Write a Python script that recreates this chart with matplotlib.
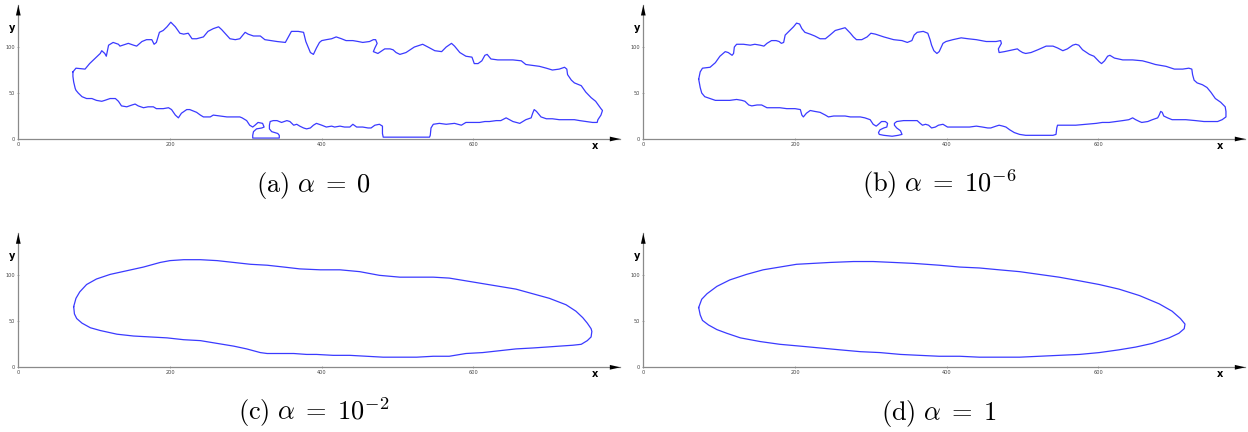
import matplotlib.pyplot as plt

plt.rcParams['mathtext.fontset'] = 'cm'

# contour points (x, y), one closed curve per panel
a_upper = [(72, 73), (76, 77), (88, 76), (94, 82), (108, 93), (110, 96), (114, 93), (116, 90), (119, 102),
           (125, 105), (132, 103), (134, 101), (145, 104), (152, 102), (156, 101), (163, 106), (169, 108),
           (176, 108), (179, 103), (182, 105), (186, 116), (191, 118), (196, 122), (201, 127), (207, 122),
           (213, 115), (218, 114), (224, 115), (229, 109), (235, 109), (244, 111), (250, 117), (257, 120),
           (264, 122), (268, 119), (279, 109), (286, 108), (292, 109), (299, 116), (303, 114), (310, 112),
           (319, 112), (325, 108), (341, 106), (352, 105), (356, 111), (360, 117), (369, 117), (376, 116),
           (379, 106), (382, 100), (385, 94), (389, 92), (393, 99), (397, 105), (400, 107), (406, 108),
           (413, 109), (419, 111), (426, 109), (432, 107), (441, 107), (448, 106), (454, 105), (463, 106),
           (468, 108), (471, 108), (473, 104), (470, 99), (468, 95), (474, 93), (483, 98), (490, 98),
           (494, 97), (498, 94), (503, 92), (511, 94), (522, 100), (533, 103), (540, 100), (549, 96),
           (558, 95), (564, 100), (571, 104), (575, 101), (582, 94), (590, 90), (598, 89), (601, 82),
           (606, 82), (611, 85), (615, 91), (618, 92), (623, 87), (632, 86), (643, 86), (652, 86),
           (663, 85), (669, 81), (678, 80), (687, 79), (696, 77), (704, 75), (713, 76), (720, 78),
           (723, 76), (724, 70), (729, 64), (733, 61), (742, 58), (748, 51), (755, 45), (761, 41),
           (768, 33), (770, 31), (768, 26), (764, 21), (763, 18)]
a_lower = [(757, 18), (748, 19), (740, 20), (733, 21), (722, 21), (713, 21), (704, 22), (696, 22), (689, 24),
           (683, 30), (680, 32), (678, 28), (676, 23), (669, 21), (661, 17), (652, 19), (643, 23), (636, 20),
           (630, 20), (621, 19), (615, 19), (608, 18), (599, 18), (590, 18), (584, 15), (575, 17), (564, 16),
           (555, 17), (547, 16), (544, 12), (543, 4), (542, 2), (481, 2), (480, 6), (480, 14), (476, 16),
           (470, 15), (465, 12), (461, 12), (454, 13), (446, 13), (441, 16), (437, 13), (430, 13), (424, 14),
           (417, 13), (413, 14), (406, 13), (400, 15), (393, 17), (389, 15), (385, 12), (380, 11), (376, 12),
           (371, 14), (367, 16), (363, 15), (358, 19), (354, 20), (347, 18), (341, 20), (336, 20), (332, 19),
           (331, 15), (331, 11), (334, 8), (342, 6), (344, 4), (344, 1), (309, 1), (309, 4), (310, 8),
           (314, 11), (321, 12), (324, 13), (322, 17), (316, 18), (312, 15), (309, 13), (305, 15), (301, 20),
           (295, 23), (292, 24), (284, 24), (275, 24), (266, 25), (257, 26), (253, 24), (244, 24), (240, 26),
           (235, 29), (226, 32), (222, 32), (215, 28), (211, 23), (207, 26), (202, 32), (198, 34), (191, 33),
           (182, 33), (178, 35), (171, 35), (165, 34), (158, 36), (154, 38), (150, 37), (143, 35), (136, 36),
           (132, 41), (128, 44), (121, 44), (114, 42), (110, 41), (103, 42), (97, 44), (90, 44), (84, 46),
           (79, 50), (76, 53), (75, 55), (73, 62), (72, 68)]

b_upper = [(73, 65), (75, 73), (78, 77), (88, 78), (95, 83), (101, 90), (108, 95), (112, 94), (117, 91),
           (119, 93), (120, 100), (123, 103), (132, 103), (141, 102), (147, 103), (154, 102), (159, 101),
           (163, 104), (169, 107), (175, 107), (179, 106), (182, 104), (185, 105), (187, 113), (193, 118),
           (198, 122), (202, 126), (206, 125), (209, 120), (213, 116), (220, 114), (226, 112), (233, 109),
           (240, 109), (246, 113), (253, 118), (262, 120), (266, 121), (273, 115), (277, 111), (281, 108),
           (288, 108), (295, 111), (300, 115), (306, 114), (317, 111), (330, 108), (341, 107), (348, 105),
           (354, 107), (357, 113), (361, 116), (369, 117), (375, 115), (378, 108), (380, 102), (383, 96),
           (387, 93), (390, 95), (395, 104), (399, 106), (408, 108), (419, 110), (428, 109), (439, 108),
           (452, 106), (465, 106), (471, 107), (472, 104), (468, 98), (469, 94), (476, 95), (487, 97),
           (493, 98), (496, 96), (500, 94), (504, 93), (511, 94), (520, 97), (531, 101), (540, 101),
           (546, 99), (553, 96), (559, 98), (566, 102), (570, 103), (574, 102), (579, 97), (588, 92),
           (594, 90), (601, 84), (604, 82), (608, 85), (612, 90), (615, 91), (621, 88), (632, 86),
           (645, 86), (658, 85), (667, 83), (675, 81), (689, 79), (700, 76), (711, 76), (719, 77),
           (723, 76), (724, 70), (726, 64), (730, 61), (737, 59), (743, 56), (748, 51), (754, 44),
           (761, 40), (767, 35), (768, 30), (768, 24), (763, 21), (757, 19)]
b_lower = [(748, 19), (739, 19), (728, 20), (715, 21), (697, 21), (691, 23), (686, 25), (684, 29), (682, 30),
           (680, 26), (678, 23), (671, 21), (665, 19), (657, 18), (654, 19), (649, 21), (645, 23), (640, 21),
           (632, 20), (623, 19), (614, 18), (605, 18), (597, 17), (583, 16), (570, 15), (553, 15), (546, 15),
           (545, 12), (544, 5), (540, 4), (529, 4), (518, 4), (504, 4), (496, 5), (489, 7), (483, 10),
           (478, 13), (474, 14), (469, 15), (465, 14), (458, 12), (454, 12), (447, 13), (439, 14), (430, 13),
           (421, 13), (412, 13), (401, 13), (395, 16), (389, 15), (385, 13), (380, 12), (376, 15), (372, 16),
           (368, 15), (365, 17), (361, 20), (354, 20), (343, 20), (334, 19), (331, 17), (331, 15), (334, 12),
           (339, 9), (341, 5), (336, 4), (328, 3), (317, 4), (311, 5), (310, 7), (312, 10), (317, 12),
           (321, 13), (322, 17), (319, 19), (314, 19), (310, 16), (307, 14), (303, 16), (299, 21), (292, 23),
           (286, 24), (281, 24), (273, 24), (266, 25), (259, 25), (251, 25), (244, 24), (240, 26), (233, 29),
           (226, 30), (220, 31), (215, 28), (211, 24), (209, 26), (207, 32), (200, 33), (189, 33), (180, 34),
           (171, 34), (163, 34), (156, 37), (150, 37), (143, 36), (139, 37), (134, 41), (130, 42), (123, 43),
           (114, 42), (108, 42), (101, 42), (95, 42), (88, 44), (81, 46), (77, 50), (75, 56)]

c_curve = [(73, 66), (76, 75), (81, 82), (90, 90), (103, 96), (121, 101), (143, 105), (165, 109), (187, 114),
           (200, 116), (218, 117), (240, 117), (262, 116), (284, 114), (306, 112), (328, 111), (350, 109),
           (371, 107), (398, 106), (424, 106), (450, 104), (476, 100), (503, 98), (525, 98), (547, 98),
           (568, 97), (590, 94), (612, 91), (634, 88), (656, 85), (678, 80), (700, 75), (722, 68), (735, 61),
           (744, 54), (750, 48), (755, 42), (756, 39), (755, 33), (750, 29), (742, 25), (731, 24), (713, 23),
           (696, 22), (678, 21), (656, 20), (634, 18), (612, 16), (590, 15), (568, 12), (547, 12), (525, 11),
           (503, 11), (481, 11), (459, 12), (437, 13), (415, 13), (393, 14), (380, 14), (363, 15), (350, 15),
           (336, 15), (328, 15), (319, 16), (301, 20), (284, 23), (262, 26), (240, 29), (218, 30), (196, 32),
           (174, 33), (152, 34), (130, 36), (108, 40), (95, 43), (84, 48), (77, 53), (74, 58)]

d_curve = [(73, 65), (77, 74), (84, 80), (97, 88), (114, 95), (136, 101), (158, 106), (180, 109), (202, 112),
           (224, 113), (246, 114), (277, 115), (303, 115), (330, 114), (356, 113), (390, 111), (417, 109),
           (443, 108), (469, 106), (496, 104), (522, 101), (548, 98), (575, 94), (601, 90), (627, 85),
           (654, 78), (680, 69), (697, 61), (708, 53), (714, 47), (713, 42), (706, 37), (693, 32), (671, 26),
           (649, 22), (627, 19), (601, 16), (575, 14), (548, 13), (522, 12), (496, 11), (469, 11), (443, 11),
           (417, 12), (390, 12), (364, 13), (339, 14), (312, 16), (286, 17), (259, 19), (233, 21), (207, 23),
           (180, 25), (154, 28), (128, 32), (110, 37), (97, 41), (86, 46), (78, 51), (75, 57)]

curves = [a_upper + a_lower, b_upper + b_lower, c_curve, d_curve]
captions = [r'$\mathrm{(a)}\ \alpha\;=\;0$', r'$\mathrm{(b)}\ \alpha\;=\;10^{-6}$',
            r'$\mathrm{(c)}\ \alpha\;=\;10^{-2}$', r'$\mathrm{(d)}\ \alpha\;=\;1$']
x_ticks = [0, 200, 400, 600]
y_ticks = [0, 50, 100]

W, H = 1248, 432
fig = plt.figure(figsize=(W / 100, H / 100), dpi=100)

# (left edge of y axis, pixel row of x axis, caption centre, caption baseline)
layout = [(18.3, 139, 314, 192), (643.3, 139, 939, 192),
          (18.3, 367.3, 314, 420), (643.3, 367.3, 939, 420)]

for pts, cap, (lx, ay, cx, cy) in zip(curves, captions, layout):
    ax = fig.add_axes([lx / W, (H - ay) / H, 602 / W, 134 / H])
    xs, ys = zip(*(pts + pts[:1]))
    ax.plot(xs, ys, color='#3a3aff', lw=0.9)
    ax.set_xlim(0, 793.5)
    ax.set_ylim(0, 145.7)
    ax.set_xticks(x_ticks)
    ax.set_yticks(y_ticks)
    for s in ['top', 'right']:
        ax.spines[s].set_visible(False)
    for s in ['left', 'bottom']:
        ax.spines[s].set_color('#8a8a8a')
        ax.spines[s].set_linewidth(0.9)
    ax.tick_params(labelsize=3.6, labelcolor='#444444', color='#8a8a8a',
                   length=1.5, width=0.5, pad=1.5, direction='inout')
    # arrow heads at the axis ends
    ax.annotate('', xy=(1, 0), xycoords='axes fraction', xytext=(-7.5, 0), textcoords='offset points',
                arrowprops=dict(arrowstyle='-|>,head_length=0.75,head_width=0.17', color='k',
                                lw=0.01, shrinkA=0, shrinkB=0))
    ax.annotate('', xy=(0, 1), xycoords='axes fraction', xytext=(0, -7.5), textcoords='offset points',
                arrowprops=dict(arrowstyle='-|>,head_length=0.75,head_width=0.17', color='k',
                                lw=0.01, shrinkA=0, shrinkB=0))
    ax.text(0.958, -0.052, 'x', transform=ax.transAxes, fontsize=7, fontweight='bold',
            ha='center', va='center')
    ax.text(-0.0105, 0.828, 'y', transform=ax.transAxes, fontsize=7, fontweight='bold',
            ha='center', va='center')
    fig.text(cx / W, 1 - cy / H, cap, fontsize=19, ha='center', va='baseline')

fig.savefig('out.png', dpi=100)
